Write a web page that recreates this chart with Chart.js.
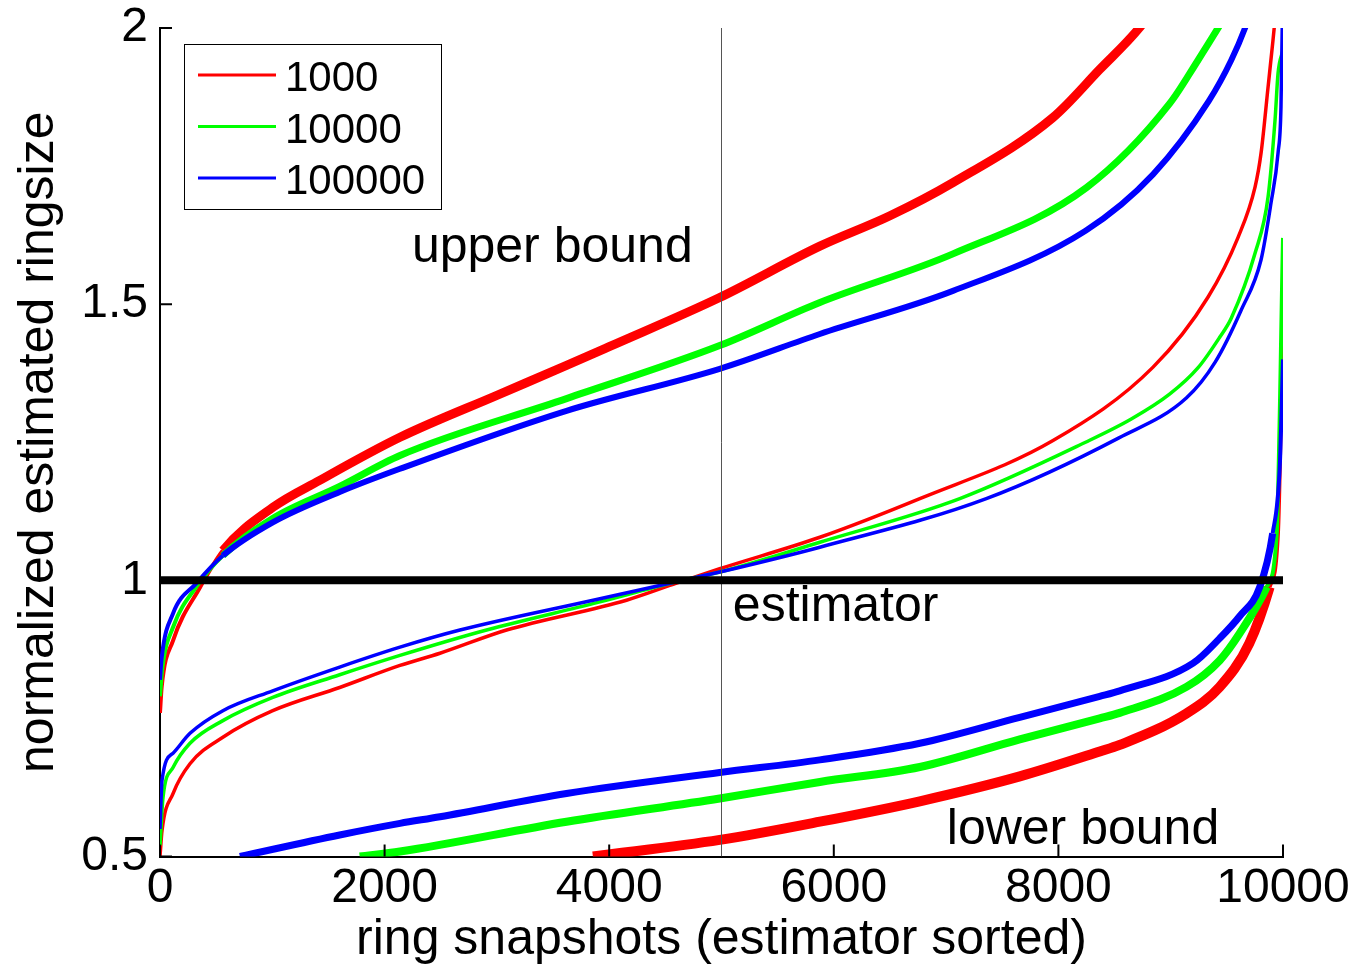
<!DOCTYPE html>
<html>
<head>
<meta charset="utf-8">
<title>normalized estimated ringsize</title>
<script src="https://cdn.jsdelivr.net/npm/chart.js@4.4.1/dist/chart.umd.min.js"></script>
<style>
  html, body { margin: 0; padding: 0; background: #fff; }
  #wrap { width: 1359px; height: 965px; position: relative; }
</style>
</head>
<body>
<div id="wrap"><canvas id="ringChart"></canvas></div>
<script>
// values: x = ring snapshot (sorted), y = normalized estimated ringsize
const sizes = ['1000', '10000', '100000'];
const xTicks = [0, 2000, 4000, 6000, 8000, 10000];
const yTicks = [0.5, 1, 1.5, 2];

// upper bound
const upperX1000 = [0, 15, 116, 356, 560, 1004, 1422, 2137, 3000, 3620, 4000, 4984, 5876, 6500, 7061, 7952, 8368, 8720, 9000];
const upperY1000 = [0.76, 0.807, 0.891, 0.987, 1.054, 1.132, 1.181, 1.259, 1.335, 1.389, 1.423, 1.512, 1.605, 1.66, 1.72, 1.838, 1.925, 2.0, 2.08];
const upperX10000 = [0, 20, 116, 330, 560, 1004, 1600, 2137, 3620, 4984, 5876, 7061, 8250, 8990, 9244, 9422, 9600];
const upperY10000 = [0.79, 0.84, 0.915, 0.99, 1.045, 1.112, 1.17, 1.226, 1.329, 1.425, 1.503, 1.591, 1.711, 1.863, 1.942, 2.0, 2.06];
const upperX100000 = [0, 15, 116, 325, 560, 1004, 1600, 2137, 3620, 4984, 5876, 7061, 8242, 8843, 9340, 9540, 9662, 9760];
const upperY100000 = [0.82, 0.86, 0.94, 0.995, 1.045, 1.105, 1.16, 1.202, 1.307, 1.383, 1.446, 1.524, 1.633, 1.735, 1.868, 1.942, 2.0, 2.06];

// estimator
const estX1000 = [0, 18, 116, 267, 560, 1004, 1600, 2137, 2493, 3086, 4154, 4600, 4984, 5876, 6766, 7952, 8843, 9333, 9600, 9751, 9805, 9867, 9911, 9960];
const estY1000 = [0.5, 0.547, 0.614, 0.668, 0.716, 0.764, 0.806, 0.846, 0.868, 0.91, 0.964, 0.995, 1.021, 1.078, 1.148, 1.253, 1.386, 1.513, 1.621, 1.712, 1.774, 1.893, 1.978, 2.08];
const estX10000 = [0, 27, 116, 267, 560, 1004, 1600, 2137, 2908, 3900, 4650, 4984, 5876, 7122, 8242, 8649, 8990, 9244, 9436, 9538, 9751, 9867, 9929, 9956, 10000];
const estY10000 = [0.52, 0.607, 0.661, 0.705, 0.746, 0.788, 0.829, 0.864, 0.91, 0.96, 1.0, 1.015, 1.069, 1.148, 1.25, 1.292, 1.337, 1.385, 1.44, 1.474, 1.592, 1.694, 1.833, 1.918, 1.96];
const estX100000 = [0, 18, 116, 267, 560, 1004, 1600, 2137, 2671, 3857, 4700, 4984, 5876, 7358, 8539, 9139, 9396, 9627, 9804, 9893, 9956, 9982, 10000];
const estY100000 = [0.55, 0.638, 0.687, 0.723, 0.764, 0.8, 0.843, 0.879, 0.91, 0.964, 1.002, 1.015, 1.06, 1.148, 1.258, 1.33, 1.395, 1.489, 1.58, 1.683, 1.774, 1.857, 2.1];

// lower bound
const lowX1000 = [3855, 4984, 5876, 6766, 7656, 8368, 8546, 9140, 9436, 9700, 9881, 9955, 10000];
const lowY1000 = [0.5, 0.53, 0.563, 0.6, 0.645, 0.69, 0.702, 0.759, 0.807, 0.886, 0.988, 1.085, 1.5];
const lowX10000 = [1778, 2137, 3620, 4984, 5876, 6766, 7656, 8368, 8546, 9140, 9436, 9614, 9855, 9944, 10000];
const lowY10000 = [0.5, 0.509, 0.563, 0.605, 0.635, 0.662, 0.712, 0.75, 0.76, 0.807, 0.855, 0.904, 0.988, 1.085, 1.62];
const lowX100000 = [711, 1600, 2137, 2493, 3620, 4984, 5876, 6766, 7656, 8368, 8546, 9200, 9436, 9614, 9793, 9908, 9971, 10000];
const lowY100000 = [0.5, 0.539, 0.56, 0.572, 0.614, 0.652, 0.675, 0.705, 0.752, 0.79, 0.8, 0.85, 0.895, 0.935, 0.988, 1.085, 1.205, 1.4];

// reference lines: estimator = 1 and the median snapshot
const unitX = [0, 10000];
const unitY = [1, 1];
const medianX = [5000, 5000];
const medianY = [0.5, 2];

const FONT = '"Liberation Sans", Arial, Helvetica, sans-serif';
const colors = ['#ff0000', '#00ff00', '#0000ff'];

function series(xs, ys, color, width, order, noisy) {
  const ds = {
    data: xs.map((x, i) => ({ x: x, y: ys[i] })),
    borderColor: color,
    borderWidth: width,
    order: order,
    pointRadius: 0,
    fill: false,
    clip: 0,
    cubicInterpolationMode: 'monotone'
  };
  // the noisy bound bands are thin near both ends of the sorted range
  if (noisy) {
    ds.segment = { borderWidth: c => (c.p0.parsed.x < 500 || c.p0.parsed.x >= 9850) ? 4 : width };
  }
  return ds;
}

function refLine(xs, ys, width, color) {
  return {
    data: xs.map((x, i) => ({ x: x, y: ys[i] })),
    borderColor: color, borderWidth: width, order: 0,
    pointRadius: 0, fill: false, tension: 0, clip: 0
  };
}

// inward ticks, matlab style
const inwardTicks = {
  id: 'inwardTicks',
  afterDraw(chart) {
    const { ctx, chartArea: a, scales: { x, y } } = chart;
    ctx.save();
    ctx.strokeStyle = '#000';
    ctx.lineWidth = 2;
    ctx.beginPath();
    x.ticks.forEach(t => {
      const px = x.getPixelForValue(t.value);
      ctx.moveTo(px, a.bottom); ctx.lineTo(px, a.bottom - 12);
    });
    y.ticks.forEach(t => {
      const py = y.getPixelForValue(t.value);
      ctx.moveTo(a.left, py); ctx.lineTo(a.left + 12, py);
    });
    ctx.stroke();
    ctx.restore();
  }
};

// text labels placed in data coordinates
const notes = [
  { text: 'upper bound', x: 2243, y: 1.576 },
  { text: 'estimator', x: 5101, y: 0.926 },
  { text: 'lower bound', x: 7006, y: 0.523 }
];
const noteLabels = {
  id: 'noteLabels',
  afterDatasetsDraw(chart) {
    const { ctx, scales: { x, y } } = chart;
    ctx.save();
    ctx.font = '50px ' + FONT;
    ctx.fillStyle = '#000';
    ctx.textBaseline = 'alphabetic';
    notes.forEach(n => ctx.fillText(n.text, x.getPixelForValue(n.x), y.getPixelForValue(n.y)));
    ctx.restore();
  }
};

// boxed legend in the upper left corner
const boxLegend = {
  id: 'boxLegend',
  afterDraw(chart) {
    const ctx = chart.ctx;
    ctx.save();
    ctx.fillStyle = '#fff';
    ctx.fillRect(184, 44, 258, 166);
    ctx.strokeStyle = '#000';
    ctx.lineWidth = 1;
    ctx.strokeRect(184.5, 44.5, 257, 165);
    ctx.font = '42px ' + FONT;
    ctx.textBaseline = 'alphabetic';
    sizes.forEach((s, i) => {
      const yy = 75 + i * 51.5;
      ctx.strokeStyle = colors[i];
      ctx.lineWidth = 3;
      ctx.beginPath();
      ctx.moveTo(198, yy); ctx.lineTo(276, yy);
      ctx.stroke();
      ctx.fillStyle = '#000';
      ctx.fillText(s, 285, yy + 16);
    });
    ctx.restore();
  }
};

const ctx = document.getElementById('ringChart').getContext('2d');
new Chart(ctx, {
  type: 'line',
  data: {
    datasets: [
      refLine(unitX, unitY, 8, '#000'),
      refLine(medianX, medianY, 1, '#555'),
      series(upperX1000, upperY1000, colors[0], 9, 3, true),
      series(upperX10000, upperY10000, colors[1], 7, 2, true),
      series(upperX100000, upperY100000, colors[2], 6, 1, true),
      series(estX1000, estY1000, colors[0], 3.5, 3, false),
      series(estX10000, estY10000, colors[1], 3.5, 2, false),
      series(estX100000, estY100000, colors[2], 3.5, 1, false),
      series(lowX1000, lowY1000, colors[0], 10, 3, true),
      series(lowX10000, lowY10000, colors[1], 8, 2, true),
      series(lowX100000, lowY100000, colors[2], 7, 1, true)
    ]
  },
  options: {
    responsive: true,
    maintainAspectRatio: false,
    animation: false,
    events: [],
    layout: { padding: { top: 28, right: 76, bottom: 0, left: 0 } },
    plugins: { legend: { display: false }, tooltip: { enabled: false } },
    scales: {
      x: {
        type: 'linear', min: 0, max: 10000,
        afterBuildTicks: s => { s.ticks = xTicks.map(v => ({ value: v })); },
        afterFit: s => { s.height = 108.5; s.paddingLeft = 0; s.paddingRight = 0; },
        grid: { display: false, drawTicks: false },
        border: { display: true, color: '#000', width: 2 },
        ticks: { color: '#000', font: { size: 48, family: FONT }, padding: 3, maxRotation: 0, autoSkip: false, callback: v => String(v) },
        title: { display: true, text: 'ring snapshots (estimator sorted)', color: '#000', font: { size: 50, family: FONT, lineHeight: 1 }, padding: { top: 0, bottom: 0 } }
      },
      y: {
        type: 'linear', min: 0.5, max: 2,
        afterBuildTicks: s => { s.ticks = yTicks.map(v => ({ value: v })); },
        afterFit: s => { s.width = 160; s.paddingTop = 0; s.paddingBottom = 0; },
        grid: { display: false, drawTicks: false },
        border: { display: true, color: '#000', width: 2 },
        ticks: { color: '#000', font: { size: 48, family: FONT }, padding: 12, callback: v => String(v) },
        title: { display: true, text: 'normalized estimated ringsize', color: '#000', font: { size: 50, family: FONT, lineHeight: 1 }, padding: { top: 14, bottom: 0 } }
      }
    }
  },
  plugins: [inwardTicks, noteLabels, boxLegend]
});
</script>
</body>
</html>
